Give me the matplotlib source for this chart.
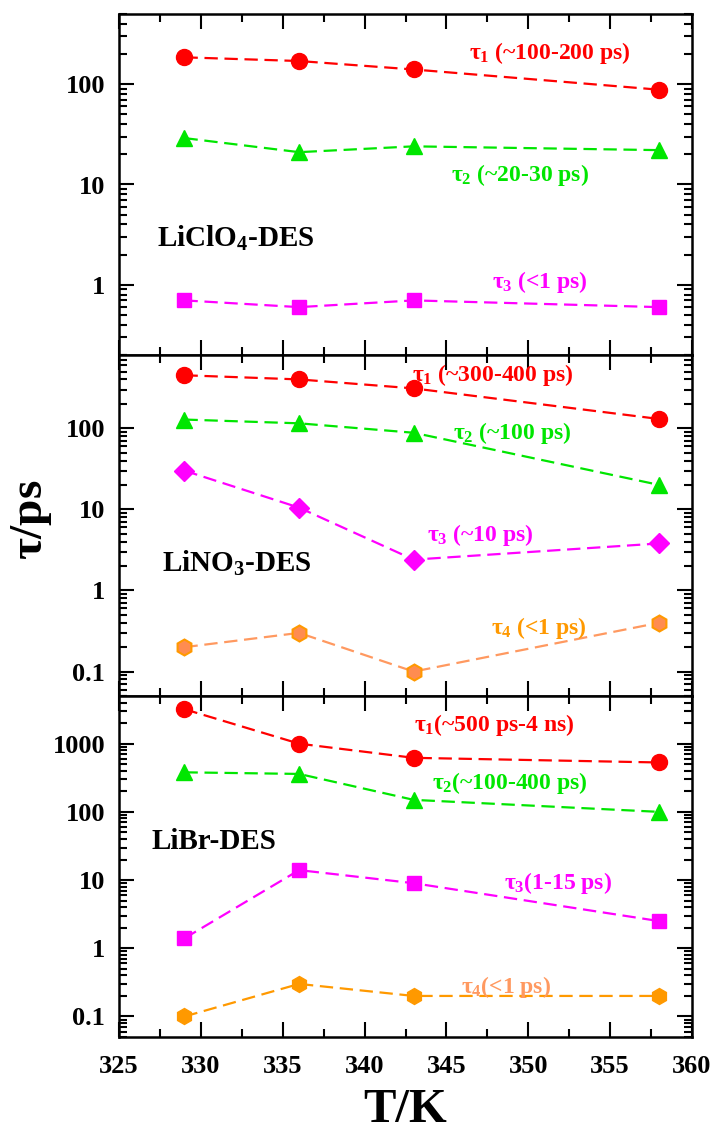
import matplotlib
matplotlib.use('Agg')
import matplotlib.pyplot as plt
from matplotlib.ticker import FixedLocator, MultipleLocator, LogLocator, FuncFormatter, NullFormatter

plt.rcParams['font.family'] = ['Liberation Serif', 'DejaVu Serif']
plt.rcParams['font.weight'] = 'bold'
plt.rcParams['mathtext.fontset'] = 'custom'
plt.rcParams['mathtext.rm'] = 'Liberation Serif:bold'
plt.rcParams['mathtext.it'] = 'Liberation Serif:bold'
plt.rcParams['mathtext.bf'] = 'Liberation Serif:bold'

# temperature (K)
T = [329, 336, 343, 358]

# LiClO4-DES
licl_t1 = [185, 170, 140, 88]
licl_t2 = [29, 21, 24, 22]
licl_t3 = [0.7, 0.6, 0.7, 0.6]

# LiNO3-DES
lino_t1 = [450, 400, 310, 130]
lino_t2 = [128, 115, 88, 20]
lino_t3 = [30, 10.5, 2.4, 3.8]
lino_t4 = [0.2, 0.3, 0.1, 0.4]

# LiBr-DES
libr_t1 = [3200, 1000, 620, 530]
libr_t2 = [380, 360, 150, 100]
libr_t3 = [1.4, 14, 9, 2.5]
libr_t4 = [0.1, 0.3, 0.2, 0.2]

red = '#ff0000'
green = '#00e600'
mag = '#ff00ff'
orng = '#ff9900'
salmon = '#ff9960'

fig = plt.figure(figsize=(7.1, 11.38), dpi=100)
L, W = 119/710, 573/710
H = 341/1138
ax1 = fig.add_axes([L, 1-355/1138, W, H])
ax2 = fig.add_axes([L, 1-696/1138, W, H], sharex=ax1)
ax3 = fig.add_axes([L, 1-1037/1138, W, H], sharex=ax1)

dash = (6, 3)
kw = dict(lw=1.6, dashes=dash, markersize=11.5)

# top panel
ax1.plot(T, licl_t1, color=red, marker='o', **kw)
ax1.plot(T, licl_t2, color=green, marker='^', **kw)
ax1.plot(T, licl_t3, color=mag, marker='s', **dict(kw, markersize=10))

# middle panel
ax2.plot(T, lino_t1, color=red, marker='o', **kw)
ax2.plot(T, lino_t2, color=green, marker='^', **kw)
ax2.plot(T, lino_t3, color=mag, marker='D', **dict(kw, markersize=10))
ax2.plot(T, lino_t4, color=salmon, marker='h', markerfacecolor='#ff8c50',
         markeredgecolor=orng, markeredgewidth=1.5, **kw)

# bottom panel
ax3.plot(T, libr_t1, color=red, marker='o', **kw)
ax3.plot(T, libr_t2, color=green, marker='^', **kw)
ax3.plot(T, libr_t3, color=mag, marker='s', **dict(kw, markersize=10))
ax3.plot(T, libr_t4, color=orng, marker='h', **kw)

ylims = [(0.2, 500), (0.05, 800), (0.05, 5000)]
majors = [[1, 10, 100], [0.1, 1, 10, 100], [0.1, 1, 10, 100, 1000]]

def fmt(v, pos):
    return '%g' % v

for ax, yl, mj in zip([ax1, ax2, ax3], ylims, majors):
    ax.set_yscale('log')
    ax.set_ylim(*yl)
    ax.yaxis.set_major_locator(FixedLocator(mj))
    ax.yaxis.set_major_formatter(FuncFormatter(fmt))
    ax.yaxis.set_minor_locator(LogLocator(base=10, subs=range(2, 10), numticks=20))
    ax.yaxis.set_minor_formatter(NullFormatter())
    ax.set_xlim(325, 360)
    ax.xaxis.set_major_locator(MultipleLocator(5))
    ax.xaxis.set_minor_locator(MultipleLocator(2.5))
    ax.tick_params(which='both', direction='in', top=True, right=True, width=1.5)
    ax.tick_params(which='major', length=11, labelsize=19, pad=10)
    ax.tick_params(axis='x', which='major', pad=13)
    ax.tick_params(which='minor', length=6)
    for s in ax.spines.values():
        s.set_linewidth(1.8)

ax1.tick_params(labelbottom=False)
ax2.tick_params(labelbottom=False)

fs = 17

def lab(ax, x, y, s, c, size=fs):
    ax.text(x, y, s, color=c, fontsize=size, fontweight='bold', ha='left', va='center',
            transform=ax.get_xaxis_transform())

lab(ax1, 346.4, 0.886, r'$\tau_1$ (~100-200 ps)', red)
lab(ax1, 345.3, 0.528, r'$\tau_2$ (~20-30 ps)', green)
lab(ax1, 347.8, 0.214, r'$\tau_3$ (<1 ps)', mag)
lab(ax1, 327.3, 0.343, r'LiClO$_4$-DES', 'black', 21)

lab(ax2, 342.9, 0.941, r'$\tau_1$ (~300-400 ps)', red)
lab(ax2, 345.4, 0.771, r'$\tau_2$ (~100 ps)', green)
lab(ax2, 343.8, 0.472, r'$\tau_3$ (~10 ps)', mag)
lab(ax2, 347.7, 0.199, r'$\tau_4$ (<1 ps)', orng)
lab(ax2, 327.6, 0.390, r'LiNO$_3$-DES', 'black', 21)

lab(ax3, 343.0, 0.915, r'$\tau_1$(~500 ps-4 ns)', red)
lab(ax3, 344.1, 0.745, r'$\tau_2$(~100-400 ps)', green)
lab(ax3, 348.5, 0.452, r'$\tau_3$(1-15 ps)', mag)
lab(ax3, 345.9, 0.147, r'$\tau_4$(<1 ps)', salmon)
lab(ax3, 327.0, 0.572, 'LiBr-DES', 'black', 21)

fig.text(405/710, 1-1110/1138, 'T/K', fontsize=35, fontweight='bold', ha='center', va='center')
fig.text(32/710, 1-520/1138, r'$\tau$/ps', fontsize=34, fontweight='bold', ha='center', va='center',
         rotation=90)

fig.savefig('out.png', dpi=100)
